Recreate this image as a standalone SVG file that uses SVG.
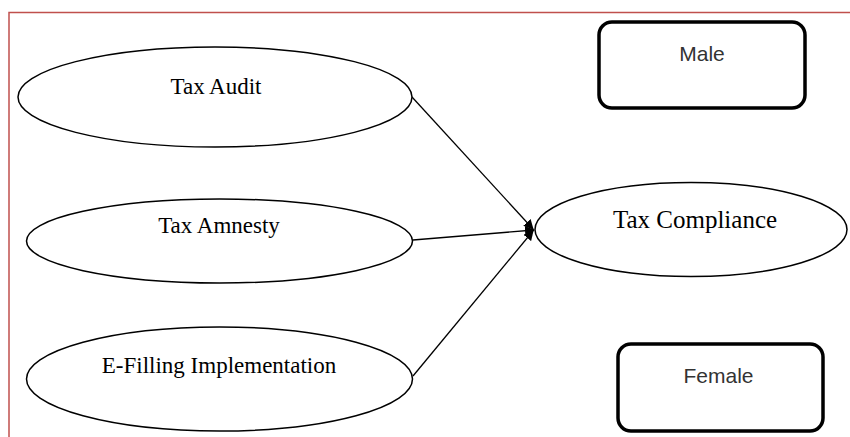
<svg xmlns="http://www.w3.org/2000/svg" width="850" height="437" viewBox="0 0 850 437">
  <style>
    .oval { fill: #ffffff; stroke: #000000; stroke-width: 1.5; }
    .box { fill: #ffffff; stroke: #000000; stroke-width: 3.5; }
    .serif { font-family: "Liberation Serif", "Times New Roman", serif; font-size: 23px; fill: #000000; text-anchor: middle; }
    .sans { font-family: "Liberation Sans", Arial, sans-serif; font-size: 21px; fill: #333333; text-anchor: middle; }
    .link { fill: none; stroke: #000000; stroke-width: 1.3; }
  </style>
  <defs>
    <marker id="arrow" viewBox="0 0 10 10" refX="9" refY="5" markerWidth="10" markerHeight="10" markerUnits="userSpaceOnUse" orient="auto">
      <path d="M0,0 L10,5 L0,10 z" fill="#000000"/>
    </marker>
  </defs>

  <rect x="0" y="0" width="850" height="437" fill="#ffffff"/>

  <!-- frame -->
  <path d="M9,437 L9,12.5 L850,12.5" fill="none" stroke="#c0504d" stroke-width="1.5"/>

  <!-- connectors -->
  <g id="connectors">
    <line class="link" x1="412" y1="97" x2="533" y2="229" marker-end="url(#arrow)"/>
    <line class="link" x1="413" y1="240" x2="534" y2="230" marker-end="url(#arrow)"/>
    <line class="link" x1="413" y1="376" x2="533" y2="231" marker-end="url(#arrow)"/>
  </g>

  <g id="tax-audit">
    <ellipse class="oval" cx="215" cy="97" rx="197" ry="50"/>
    <text class="serif" x="216" y="94">Tax Audit</text>
  </g>

  <g id="tax-amnesty">
    <ellipse class="oval" cx="219.5" cy="241" rx="193" ry="42"/>
    <text class="serif" x="219" y="233">Tax Amnesty</text>
  </g>

  <g id="e-filling">
    <ellipse class="oval" cx="219.5" cy="379" rx="193" ry="52"/>
    <text class="serif" x="219" y="373">E-Filling Implementation</text>
  </g>

  <g id="tax-compliance">
    <ellipse class="oval" cx="691" cy="229.5" rx="156" ry="47"/>
    <text class="serif" x="695" y="228" style="font-size:25px">Tax Compliance</text>
  </g>

  <g id="male">
    <rect class="box" x="599" y="22" width="206" height="86" rx="13"/>
    <text class="sans" x="702" y="61">Male</text>
  </g>

  <g id="female">
    <rect class="box" x="618" y="344" width="205" height="87" rx="13"/>
    <text class="sans" x="718.5" y="383">Female</text>
  </g>
</svg>
